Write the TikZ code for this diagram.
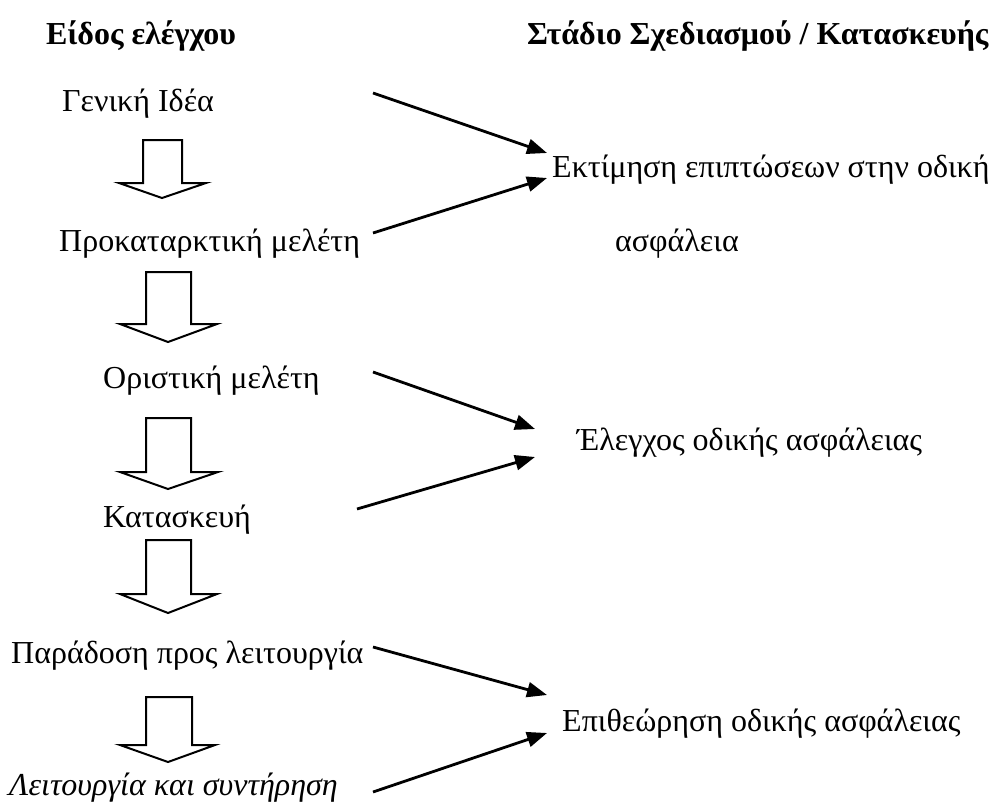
\documentclass[tikz,border=0pt]{standalone}
\usepackage{fontspec}
\setmainfont{Liberation Serif}
\usetikzlibrary{arrows.meta}
\begin{document}
\begin{tikzpicture}[x=1pt,y=-1pt,
  lbl/.style={anchor=base west,inner sep=0pt,font=\fontsize{32}{38}\selectfont},
  head/.style={lbl,font=\fontsize{32}{38}\selectfont\bfseries},
  conn/.style={line width=2.8pt,-{Triangle[length=20pt,width=15pt]}},
  blockarr/.style={draw,line width=2pt,miter limit=20}]
\useasboundingbox[fill=white] (0,0) rectangle (995,803);
% headings
\node[head] (h1) at (46,44) {Είδος ελέγχου};
\node[head] (h2) at (527,44) {Στάδιο Σχεδιασμού / Κατασκευής};
% left column
\node[lbl] (gen) at (62,111) {Γενική Ιδέα};
\node[lbl] (prok) at (59,251) {Προκαταρκτική μελέτη};
\node[lbl] (orist) at (103,388) {Οριστική μελέτη};
\node[lbl] (kat) at (103,527) {Κατασκευή};
\node[lbl] (parad) at (11,663) {Παράδοση προς λειτουργία};
\node[lbl,font=\fontsize{32}{38}\selectfont\itshape] (leit) at (9,795) {Λειτουργία και συντήρηση};
% right column
\node[lbl] (ekt) at (552,177) {Εκτίμηση επιπτώσεων στην οδική};
\node[lbl] (asf) at (615,251) {ασφάλεια};
\node[lbl] (eleg) at (577,450) {Έλεγχος οδικής ασφάλειας};
\node[lbl] (epith) at (562,731) {Επιθεώρηση οδικής ασφάλειας};
% connector end points
\coordinate (s1) at (373,93);   \coordinate (t1) at (547,153);
\coordinate (s2) at (373,233);  \coordinate (t2) at (547,178);
\coordinate (s3) at (373,372);  \coordinate (t3) at (535,429);
\coordinate (s4) at (357,509);  \coordinate (t4) at (535,457);
\coordinate (s5) at (373,647);  \coordinate (t5) at (547,695);
\coordinate (s6) at (373,792);  \coordinate (t6) at (547,733);
\draw[conn] (s1) -- (t1);
\draw[conn] (s2) -- (t2);
\draw[conn] (s3) -- (t3);
\draw[conn] (s4) -- (t4);
\draw[conn] (s5) -- (t5);
\draw[conn] (s6) -- (t6);
% block arrows
\draw[blockarr] (143,140) -- (143,183) -- (119,183) -- (162,198) -- (206,183) -- (182,183) -- (182,140) -- cycle;
\draw[blockarr] (146,272) -- (146,324) -- (120,324) -- (168,342) -- (217,324) -- (191,324) -- (191,272) -- cycle;
\draw[blockarr] (146,418) -- (146,472) -- (120,472) -- (168,489) -- (218,472) -- (191,472) -- (191,418) -- cycle;
\draw[blockarr] (146,540) -- (146,594) -- (120,594) -- (168,613) -- (217,594) -- (191,594) -- (191,540) -- cycle;
\draw[blockarr] (146,697) -- (146,745) -- (120,745) -- (168,762) -- (215,745) -- (192,745) -- (192,697) -- cycle;
\end{tikzpicture}
\end{document}
